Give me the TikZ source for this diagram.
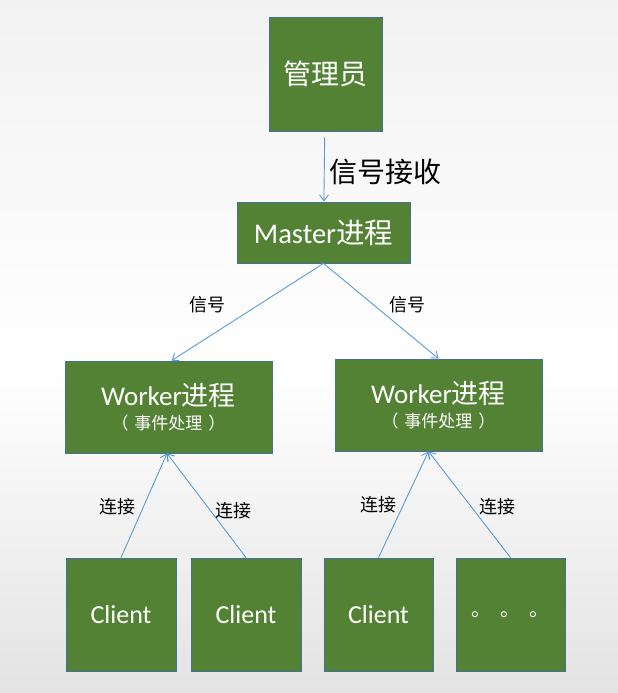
\documentclass[tikz,border=0pt]{standalone}
\usepackage{fontspec}
\setmainfont{Carlito}
\newfontfamily\cjk{Noto Sans CJK SC}
\usetikzlibrary{arrows.meta}

\definecolor{boxgreen}{HTML}{548235}
\definecolor{boxedge}{HTML}{41719C}
\definecolor{linkblue}{HTML}{5B9BD5}

\newcommand{\workertext}{%
    {\fontsize{27}{30}\selectfont Worker{\cjk 进程}}\\[7pt]
    {\cjk\fontsize{17}{18}\selectfont （\hspace{6pt}事件处理\hspace{6pt}）}}

\tikzset{
    box/.style={draw=boxedge, line width=0.8pt, fill=boxgreen, text=white,
        inner sep=0pt, align=center},
    link/.style={draw=linkblue, line width=0.9pt,
        -{Straight Barb[length=6pt,width=9pt]}},
    lbl/.style={text=black, inner sep=0pt, font=\cjk\fontsize{18}{20}\selectfont}
}

\begin{document}
\begin{tikzpicture}[x=1pt, y=-1pt]

    % background
    \useasboundingbox (0,0) rectangle (618,693);
    \fill[top color=black!5, bottom color=white] (0,0) rectangle (618,370);
    \fill[top color=white, bottom color=black!11] (0,370) rectangle (618,693);

    % boxes
    \node[box, minimum width=113pt, minimum height=114pt,
        font=\cjk\fontsize{28}{30}\selectfont] (admin) at (325.5,74) {管理员};
    \node[box, minimum width=173pt, minimum height=61pt,
        font=\fontsize{28.5}{30}\selectfont] (master) at (323.5,232.5) {Master{\cjk 进程}};
    \node[box, minimum width=207pt, minimum height=92pt] (workerL) at (168.5,407) {\workertext};
    \node[box, minimum width=207pt, minimum height=92pt] (workerR) at (438.5,405) {\workertext};
    \node[box, minimum width=110pt, minimum height=113pt,
        font=\fontsize{26}{30}\selectfont] (clientA) at (121,614.5) {Client};
    \node[box, minimum width=110pt, minimum height=113pt,
        font=\fontsize{26}{30}\selectfont] (clientB) at (246,614.5) {Client};
    \node[box, minimum width=109pt, minimum height=113pt,
        font=\fontsize{26}{30}\selectfont] (clientC) at (378.5,614.5) {Client};
    \node[box, minimum width=109pt, minimum height=113pt,
        font=\cjk\fontsize{20}{24}\selectfont] (more) at (510.5,614.5)
        {\raisebox{-6pt}{。\hspace{9pt}。\hspace{9pt}。}};

    % arrows
    \draw[link, shorten <=6pt] (admin) -- (master);
    \draw[link] (master.south) -- ([xshift=3pt]workerL.north);
    \draw[link] (master.south) -- (workerR.north);
    \draw[link] (clientA.north) -- ([xshift=-1.5pt]workerL.south);
    \draw[link] (clientB.north) -- ([xshift=-1.5pt]workerL.south);
    \draw[link] (clientC.north) -- ([xshift=-10pt]workerR.south);
    \draw[link] (more.north) -- ([xshift=-10pt]workerR.south);

    % labels
    \node[lbl, font=\cjk\fontsize{28}{30}\selectfont] (recv) at (385,172) {信号接收};
    \node[lbl] (sigL) at (207,305) {信号};
    \node[lbl] (sigR) at (407,305) {信号};
    \node[lbl] (conA) at (117,507) {连接};
    \node[lbl] (conB) at (233,511) {连接};
    \node[lbl] (conC) at (378,505) {连接};
    \node[lbl] (conD) at (497,507) {连接};

\end{tikzpicture}
\end{document}
